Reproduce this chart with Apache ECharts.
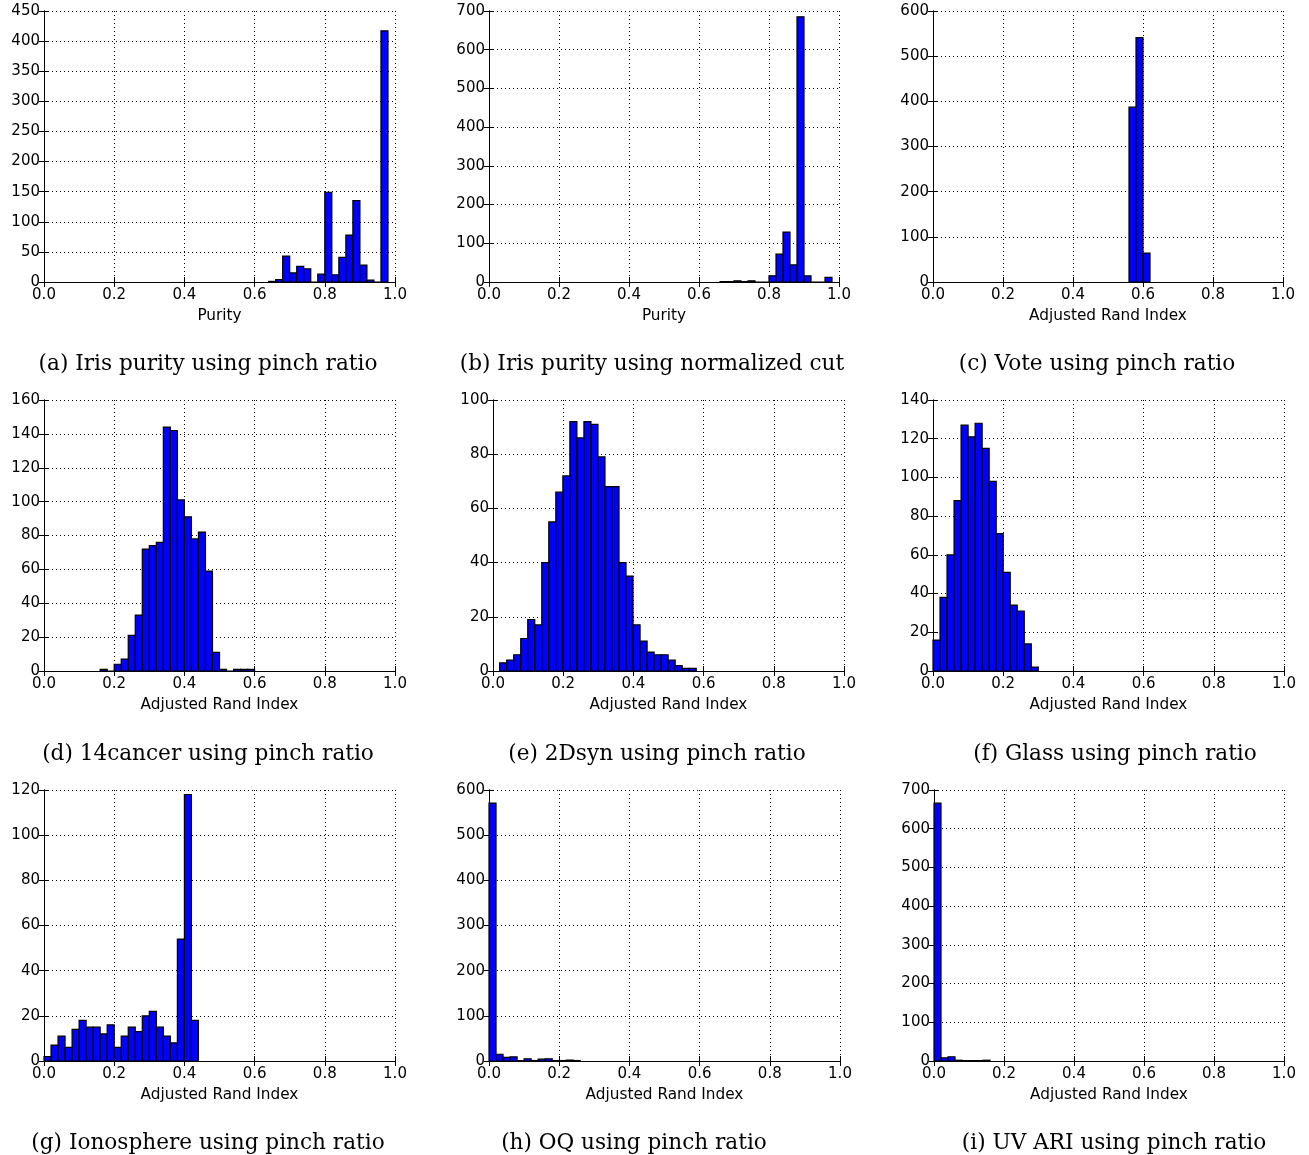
<!DOCTYPE html>
<html>
<head>
<meta charset="utf-8">
<script src="https://cdn.jsdelivr.net/npm/echarts@6/dist/echarts.min.js"></script>
<style>
  html, body { margin: 0; padding: 0; background: #fff; }
  #chart { width: 1309px; height: 1155px; }
</style>
</head>
<body>
<div id="chart"></div>
<script>
/* histogram counts, bins of width 0.02 */
var binWidth = 0.02;

var irisPinchStart = 0.64;
var irisPinch = [1, 4, 43, 15, 26, 22, 0, 13, 149, 12, 41, 78, 135, 28, 3, 0, 417];

var irisNcutStart = 0.66;
var irisNcut = [1, 1, 3, 1, 3, 0, 0, 16, 72, 129, 44, 685, 16, 0, 0, 12];

var voteStart = 0.56;
var vote = [387, 541, 64];

var cancerStart = 0.16;
var cancer = [1, 0, 4, 7, 21, 33, 72, 74, 76, 144, 142, 101, 91, 78, 82, 59, 11, 1, 0, 1, 1, 1];

var syn2dStart = 0.019;
var syn2d = [3, 4, 6, 12, 19, 17, 40, 55, 66, 72, 92, 86, 92, 91, 79, 68, 68, 40, 35, 17, 11, 7, 6, 6, 4, 2, 1, 1];

var glassStart = 0;
var glass = [16, 38, 60, 88, 127, 121, 128, 115, 98, 71, 51, 34, 31, 14, 2];

var ionoStart = 0;
var iono = [2, 7, 11, 6, 14, 18, 15, 15, 12, 16, 6, 11, 15, 13, 20, 22, 15, 11, 8, 54, 118, 18];

var oqStart = 0;
var oq = [571, 15, 8, 9, 1, 5, 1, 4, 5, 1, 1, 2, 1];

var uvStart = 0;
var uv = [666, 8, 11, 2, 1, 1, 1, 2];

var yMax = [450, 700, 600, 160, 100, 140, 120, 600, 700];
var yStep = [50, 100, 100, 20, 20, 20, 20, 100, 100];
var xNames = ['Purity', 'Purity', 'Adjusted Rand Index',
  'Adjusted Rand Index', 'Adjusted Rand Index', 'Adjusted Rand Index',
  'Adjusted Rand Index', 'Adjusted Rand Index', 'Adjusted Rand Index'];
var captions = [
  '(a) Iris purity using pinch ratio',
  '(b) Iris purity using normalized cut',
  '(c) Vote using pinch ratio',
  '(d) 14cancer using pinch ratio',
  '(e) 2Dsyn using pinch ratio',
  '(f) Glass using pinch ratio',
  '(g) Ionosphere using pinch ratio',
  '(h) OQ using pinch ratio',
  '(i) UV ARI using pinch ratio'
];

var panels = [
  [irisPinchStart, irisPinch], [irisNcutStart, irisNcut], [voteStart, vote],
  [cancerStart, cancer], [syn2dStart, syn2d], [glassStart, glass],
  [ionoStart, iono], [oqStart, oq], [uvStart, uv]
];

/* layout (pixels) */
var gridBox = [
  [44, 11, 351, 271], [489, 11, 350, 271], [933, 11, 350, 271],
  [44, 400, 351, 271], [493, 400, 351, 271], [933, 400, 351, 271],
  [44, 790, 351, 271], [489, 790, 351, 271], [934, 790, 350, 271]
];
var captionPos = [
  [208, 364], [652, 364], [1097, 364],
  [208, 754], [657, 754], [1115, 754],
  [208, 1143], [634, 1143], [1114, 1143]
];

var font = 'DejaVu Sans';
var grids = [], xAxes = [], yAxes = [], series = [], graphics = [];

function toBins(start, counts) {
  return counts.map(function (c, i) {
    return [start + i * binWidth, start + (i + 1) * binWidth, c];
  });
}

function renderBar(params, api) {
  var p0 = api.coord([api.value(0), api.value(2)]);
  var p1 = api.coord([api.value(1), 0]);
  return {
    type: 'rect',
    shape: { x: p0[0], y: p0[1], width: p1[0] - p0[0], height: p1[1] - p0[1] },
    style: { fill: '#0000ff', stroke: '#000', lineWidth: 1.2 }
  };
}

var tick = { show: true, inside: true, length: 5, lineStyle: { color: '#000', width: 1 } };
var line = { show: true, lineStyle: { color: '#000', width: 1 } };
var grid = { show: true, lineStyle: { color: '#000', width: 1, type: [1, 3] } };

for (var i = 0; i < 9; i++) {
  var b = gridBox[i];
  grids.push({ left: b[0], top: b[1], width: b[2], height: b[3] });
  xAxes[i] = {
    type: 'value', gridIndex: i, position: 'bottom', min: 0, max: 1, interval: 0.2,
    axisLine: line, axisTick: tick, splitLine: grid,
    axisLabel: { color: '#000', fontFamily: font, fontSize: 15, margin: 6,
      showMinLabel: true, showMaxLabel: true,
      formatter: function (v) { return v.toFixed(1); } },
    name: xNames[i], nameLocation: 'middle', nameGap: 27,
    nameTextStyle: { color: '#000', fontFamily: font, fontSize: 15.3 }
  };
  xAxes[9 + i] = {
    type: 'value', gridIndex: i, position: 'top', min: 0, max: 1, interval: 0.2,
    axisLine: line, axisTick: tick, splitLine: { show: false }, axisLabel: { show: false }
  };
  yAxes[i] = {
    type: 'value', gridIndex: i, position: 'left', min: 0, max: yMax[i], interval: yStep[i],
    axisLine: line, axisTick: tick, splitLine: grid,
    axisLabel: { color: '#000', fontFamily: font, fontSize: 15, margin: 4,
      showMinLabel: true, showMaxLabel: true }
  };
  yAxes[9 + i] = {
    type: 'value', gridIndex: i, position: 'right', min: 0, max: yMax[i], interval: yStep[i],
    axisLine: line, axisTick: tick, splitLine: { show: false }, axisLabel: { show: false }
  };
  series.push({
    type: 'custom', xAxisIndex: i, yAxisIndex: i,
    renderItem: renderBar,
    encode: { x: [0, 1], y: 2 },
    data: toBins(panels[i][0], panels[i][1]),
    silent: true, z: 3
  });
  graphics.push({
    type: 'text', x: captionPos[i][0], y: captionPos[i][1],
    style: { text: captions[i], fill: '#000', font: '21.6px "DejaVu Serif"',
      textAlign: 'center', textVerticalAlign: 'middle' }
  });
}

var chart = echarts.init(document.getElementById('chart'), null, { renderer: 'canvas' });
chart.setOption({
  backgroundColor: '#fff',
  animation: false,
  grid: grids,
  xAxis: xAxes,
  yAxis: yAxes,
  series: series,
  graphic: graphics
});
</script>
</body>
</html>
